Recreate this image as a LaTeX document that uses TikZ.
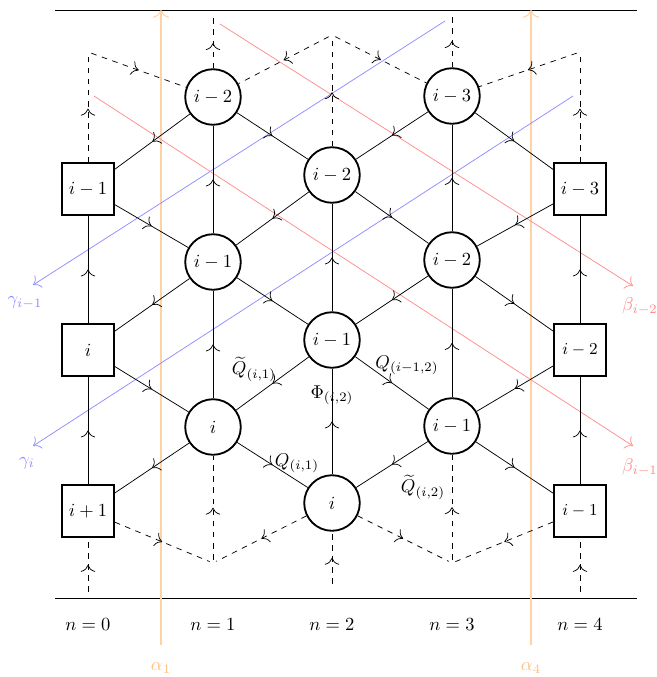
\documentclass[tikz,border=0pt]{standalone}
\usepackage{amsmath}
\usetikzlibrary{decorations.markings, arrows.meta}

\begin{document}
\begin{tikzpicture}[x=0.54pt, y=-0.54pt,
        gauge/.style={draw, circle, line width=1pt, minimum size=30pt, inner sep=0pt},
        flavour/.style={draw, rectangle, line width=1pt, minimum size=28pt, inner sep=0pt},
        corner/.style={inner sep=1.6pt},
        flow/.style={postaction={decorate}, decoration={markings, mark=at position 0.5 with {\arrow{To[scale=1.5]}}}},
        ghost/.style={flow, dashed},
        alphaline/.style={-{To[scale=1.5]}, orange!35, line width=0.55pt},
        betaline/.style={-{To[scale=1.5]}, red!45},
        gammaline/.style={-{To[scale=1.5]}, blue!45}]
        \useasboundingbox (0,0) rectangle (657,677);

        % frame
        \draw (55,10) -- (637,10);
        \draw (55,598) -- (637,598);

        % brane lines
        \coordinate (a1s) at (161,645);
        \coordinate (a1e) at (161,10);
        \coordinate (a4s) at (531,645);
        \coordinate (a4e) at (531,10);
        \coordinate (g1s) at (445,21);
        \coordinate (g1e) at (33,285);
        \coordinate (g2s) at (573,96);
        \coordinate (g2e) at (33,446);
        \coordinate (b2s) at (220,24);
        \coordinate (b2e) at (633,286);
        \coordinate (b1s) at (94,96);
        \coordinate (b1e) at (633,446);
        \draw[alphaline] (a1s) -- (a1e);
        \draw[alphaline] (a4s) -- (a4e);
        \draw[gammaline] (g1s) -- (g1e);
        \draw[gammaline] (g2s) -- (g2e);
        \draw[betaline] (b2s) -- (b2e);
        \draw[betaline] (b1s) -- (b1e);
        \node[text=orange!50] (la1) at (161,668) {$\alpha_1$};
        \node[text=orange!50] (la4) at (531,668) {$\alpha_4$};
        \node[text=blue!45] (lg1) at (25,303) {$\gamma_{i-1}$};
        \node[text=blue!45] (lg2) at (27,463) {$\gamma_i$};
        \node[text=red!45] (lb2) at (640,306) {$\beta_{i-2}$};
        \node[text=red!45] (lb1) at (640,467) {$\beta_{i-1}$};

        % quiver nodes
        \node[flavour] (S0a) at (88,189) {$i-1$};
        \node[flavour] (S0b) at (88,350) {$i$};
        \node[flavour] (S0c) at (88,511) {$i+1$};
        \node[gauge] (C1a) at (213,97) {$i-2$};
        \node[gauge] (C1b) at (213,262) {$i-1$};
        \node[gauge] (C1c) at (213,427) {$i$};
        \node[gauge] (C2a) at (332,175) {$i-2$};
        \node[gauge] (C2b) at (332,340) {$i-1$};
        \node[gauge] (C2c) at (332,503) {$i$};
        \node[gauge] (C3a) at (452,96) {$i-3$};
        \node[gauge] (C3b) at (452,260) {$i-2$};
        \node[gauge] (C3c) at (452,426) {$i-1$};
        \node[flavour] (S4a) at (580,189) {$i-3$};
        \node[flavour] (S4b) at (580,350) {\small$i-2$};
        \node[flavour] (S4c) at (580,511) {\small$i-1$};

        % periodic ends
        \node[corner] (tl) at (88,52) {};
        \node[corner] (tc) at (332,35) {};
        \node[corner] (tr) at (580,52) {};
        \node[corner] (bl) at (213,563) {};
        \node[corner] (br) at (452,563) {};
        \coordinate (up1) at (213,18);
        \coordinate (up3) at (452,15);
        \coordinate (dn0) at (88,592);
        \coordinate (dn2) at (332,584);
        \coordinate (dn4) at (580,592);

        % vertical arrows
        \draw[flow] (S0b) -- (S0a);
        \draw[flow] (S0c) -- (S0b);
        \draw[flow] (C1b) -- (C1a);
        \draw[flow] (C1c) -- (C1b);
        \draw[flow] (C2b) -- (C2a);
        \draw[flow] (C2c) -- (C2b);
        \draw[flow] (C3b) -- (C3a);
        \draw[flow] (C3c) -- (C3b);
        \draw[flow] (S4b) -- (S4a);
        \draw[flow] (S4c) -- (S4b);

        % diagonal arrows
        \draw[flow] (C1a) -- (S0a);
        \draw[flow] (S0a) -- (C1b);
        \draw[flow] (C1a) -- (C2a);
        \draw[flow] (C2a) -- (C1b);
        \draw[flow] (C1b) -- (S0b);
        \draw[flow] (S0b) -- (C1c);
        \draw[flow] (C1b) -- (C2b);
        \draw[flow] (C2b) -- (C1c);
        \draw[flow] (C1c) -- (S0c);
        \draw[flow] (C1c) -- (C2c);
        \draw[flow] (C3a) -- (C2a);
        \draw[flow] (C2a) -- (C3b);
        \draw[flow] (C3a) -- (S4a);
        \draw[flow] (S4a) -- (C3b);
        \draw[flow] (C3b) -- (C2b);
        \draw[flow] (C2b) -- (C3c);
        \draw[flow] (C3b) -- (S4b);
        \draw[flow] (S4b) -- (C3c);
        \draw[flow] (C3c) -- (C2c);
        \draw[flow] (C3c) -- (S4c);

        % dashed arrows to the periodic copies
        \draw[ghost] (tl) -- (C1a);
        \draw[ghost] (S0a) -- (tl);
        \draw[ghost] (tc) -- (C1a);
        \draw[ghost] (tc) -- (C3a);
        \draw[ghost] (C2a) -- (tc);
        \draw[ghost] (tr) -- (C3a);
        \draw[ghost] (S4a) -- (tr);
        \draw[ghost] (C1a) -- (up1);
        \draw[ghost] (C3a) -- (up3);
        \draw[ghost] (S0c) -- (bl);
        \draw[ghost] (C2c) -- (bl);
        \draw[ghost] (bl) -- (C1c);
        \draw[ghost] (C2c) -- (br);
        \draw[ghost] (S4c) -- (br);
        \draw[ghost] (br) -- (C3c);
        \draw[ghost] (dn0) -- (S0c);
        \draw[ghost] (dn2) -- (C2c);
        \draw[ghost] (dn4) -- (S4c);

        % field labels
        \node (qt1) at (254,369) {$\widetilde{Q}_{(i,1)}$};
        \node (q2) at (407,365) {$Q_{(i-1,2)}$};
        \node (phi) at (332,395) {$\Phi_{(i,2)}$};
        \node (q1) at (297,463) {$Q_{(i,1)}$};
        \node (qt2) at (423,487) {$\widetilde{Q}_{(i,2)}$};

        % columns
        \node (n0) at (88,625) {$n=0$};
        \node (n1) at (213,625) {$n=1$};
        \node (n2) at (332,625) {$n=2$};
        \node (n3) at (452,625) {$n=3$};
        \node (n4) at (580,625) {$n=4$};
    \end{tikzpicture}
\end{document}
